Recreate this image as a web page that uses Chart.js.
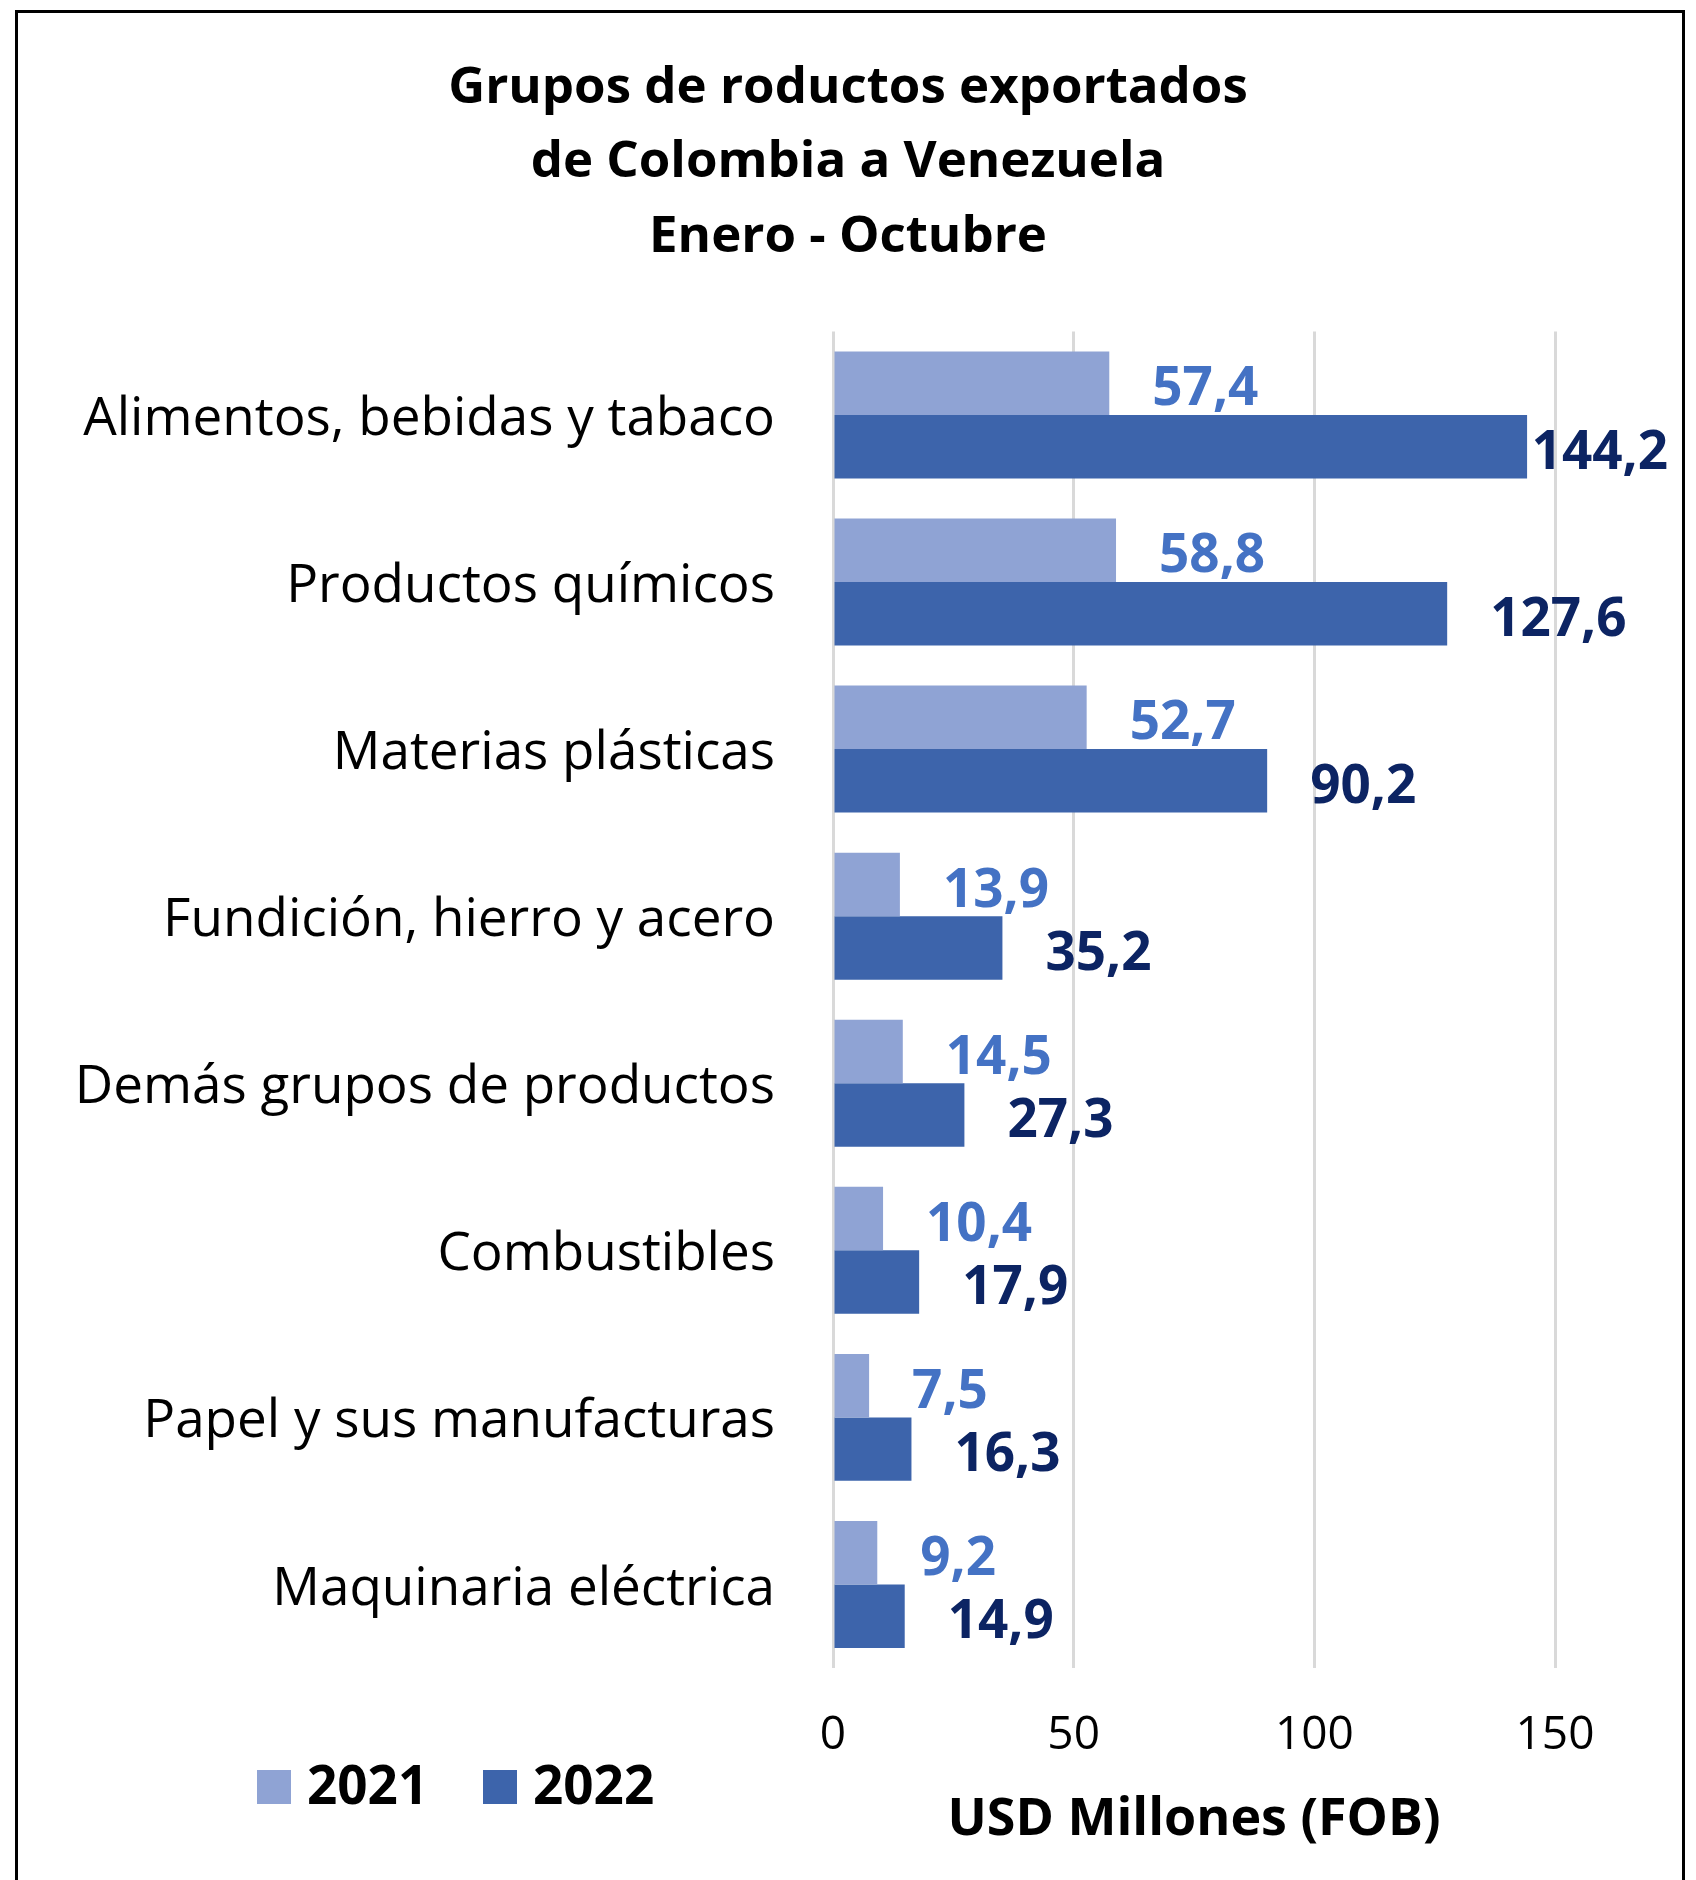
<!DOCTYPE html>
<html lang="es">
<head>
<meta charset="utf-8">
<title>Grupos de productos exportados de Colombia a Venezuela</title>
<script src="https://cdn.jsdelivr.net/npm/chart.js@4.4.1/dist/chart.umd.min.js"></script>
<style>
  html, body { margin: 0; padding: 0; background: #fff; }
  #wrap { position: relative; width: 1696px; height: 1880px; overflow: hidden; }
  #frame {
    position: absolute; left: 15px; top: 10px; width: 1664px; height: 1900px;
    border: 3px solid #000; border-bottom: none; pointer-events: none;
  }
  canvas { display: block; }
</style>
</head>
<body>
<div id="wrap">
  <canvas id="chart" width="1696" height="1880"></canvas>
  <div id="frame"></div>
</div>
<script>
// Data (USD millones FOB, Enero - Octubre)
const categories = [
  "Alimentos, bebidas y tabaco",
  "Productos químicos",
  "Materias plásticas",
  "Fundición, hierro y acero",
  "Demás grupos de productos",
  "Combustibles",
  "Papel y sus manufacturas",
  "Maquinaria eléctrica",
];
const values2021 = [57.4, 58.8, 52.7, 13.9, 14.5, 10.4, 7.5, 9.2];
const values2022 = [144.2, 127.6, 90.2, 35.2, 27.3, 17.9, 16.3, 14.9];
const xTicks = [0, 50, 100, 150];

const titleLines = ["Grupos de roductos exportados", "de Colombia a Venezuela", "Enero - Octubre"];
const FONT = "'Open Sans', 'Noto Sans', sans-serif";

// Labels next to each bar, "57,4" style (comma decimal)
const valueLabels = {
  id: "valueLabels",
  afterDatasetsDraw(chart) {
    const ctx = chart.ctx;
    ctx.save();
    ctx.font = `bold 53px ${FONT}`;
    ctx.textBaseline = "middle";
    chart.data.datasets.forEach((ds, i) => {
      const meta = chart.getDatasetMeta(i);
      meta.data.forEach((bar, j) => {
        const text = ds.data[j].toFixed(1).replace(".", ",");
        const w = ctx.measureText(text).width;
        let x = bar.x + 43;
        if (x + w > 1668) x = 1668 - w; // keep inside the frame
        ctx.fillStyle = ds.labelColor;
        ctx.fillText(text, x, bar.y + 7);
      });
    });
    ctx.restore();
  },
};

// Legend in the bottom-left corner, like the original
const cornerLegend = {
  id: "cornerLegend",
  afterDraw(chart) {
    const ctx = chart.ctx;
    const spots = [257, 483];
    ctx.save();
    ctx.font = `bold 53px ${FONT}`;
    ctx.textBaseline = "middle";
    chart.data.datasets.forEach((ds, i) => {
      const x = spots[i];
      ctx.fillStyle = ds.backgroundColor;
      ctx.fillRect(x, 1770, 34, 34);
      ctx.fillStyle = "#000";
      ctx.fillText(ds.label, x + 50, 1789);
    });
    ctx.restore();
  },
};

const ctx = document.getElementById("chart").getContext("2d");

new Chart(ctx, {
  type: "bar",
  data: {
    labels: categories,
    datasets: [
      {
        label: "2021",
        data: values2021,
        backgroundColor: "#8FA3D4",
        labelColor: "#4472C4",
        categoryPercentage: 0.76,
        barPercentage: 1.0,
      },
      {
        label: "2022",
        data: values2022,
        backgroundColor: "#3D64AB",
        labelColor: "#0C2463",
        categoryPercentage: 0.76,
        barPercentage: 1.0,
      },
    ],
  },
  options: {
    indexAxis: "y",
    responsive: false,
    animation: false,
    layout: { padding: 0 },
    plugins: {
      legend: { display: false },
      tooltip: { enabled: false },
      title: {
        display: true,
        text: titleLines,
        color: "#000",
        font: { family: FONT, size: 51, weight: "bold", lineHeight: 1.46 },
        padding: { top: 51, bottom: 57 },
      },
    },
    scales: {
      x: {
        min: 0,
        max: 150,
        afterBuildTicks: (scale) => {
          scale.ticks = xTicks.map((v) => ({ value: v }));
        },
        afterFit: (scale) => {
          scale.height = 212;
        },
        ticks: {
          color: "#000",
          padding: 40,
          font: { family: FONT, size: 46 },
        },
        grid: { color: "#D9D9D9", lineWidth: 3, drawTicks: false },
        border: { display: false },
        title: {
          display: true,
          text: "USD Millones (FOB)",
          color: "#000",
          font: { family: FONT, size: 52, weight: "bold" },
          padding: { top: 0, bottom: 29 },
        },
      },
      y: {
        afterFit: (scale) => {
          scale.width = 833;
        },
        ticks: {
          color: "#000",
          padding: 58,
          labelOffset: 5,
          font: { family: FONT, size: 53 },
          autoSkip: false,
        },
        grid: { display: false, drawTicks: false },
        border: { display: false },
      },
      // empty right-hand axis: reserves room for the labels past 150
      yRight: {
        type: "category",
        position: "right",
        afterFit: (scale) => {
          scale.width = 141;
        },
        ticks: { display: false },
        grid: { display: false, drawTicks: false },
        border: { display: false },
      },
    },
  },
  plugins: [valueLabels, cornerLegend],
});
</script>
</body>
</html>
